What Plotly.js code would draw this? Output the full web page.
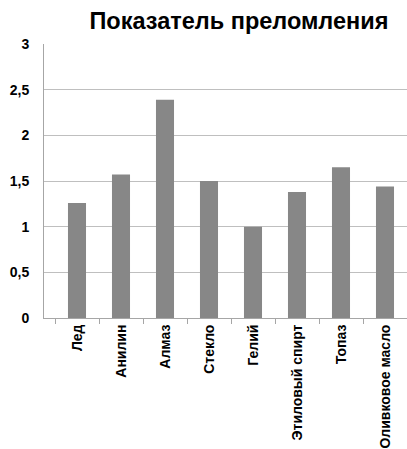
<!DOCTYPE html>
<html><head><meta charset="utf-8">
<script src="https://cdn.plot.ly/plotly-3.0.1.min.js"></script>
<style>html,body{margin:0;padding:0;background:#fff}</style>
</head><body><div id="chart" style="width:407px;height:449px"></div>
<script>
const categories = ["Лед","Анилин","Алмаз","Стекло","Гелий","Этиловый спирт","Топаз","Оливковое масло"];
const values = [1.26, 1.57, 2.39, 1.5, 1.0, 1.38, 1.65, 1.44];
const yTickVals = [0, 0.5, 1, 1.5, 2, 2.5, 3];
const yTickText = ["0", "0,5", "1", "1,5", "2", "2,5", "3"];

const FONT = "Liberation Sans, Arial, sans-serif";
const trace = {
  type: "bar", x: categories, y: values,
  marker: {color: "#878787"}, width: 0.41, hoverinfo: "none"
};
const layout = {
  width: 407, height: 449,
  margin: {l: 44, r: 0, t: 44, b: 131, pad: 0},
  paper_bgcolor: "#fff", plot_bgcolor: "#fff",
  font: {family: FONT, color: "#000"},
  title: {text: "<b>Показатель преломления</b>", font: {size: 23.5, family: FONT, color: "#000"},
          x: 0.587, xanchor: "center", y: 0.953, yanchor: "middle"},
  showlegend: false,
  xaxis: {
    type: "category", range: [-0.75, 7.5], tickangle: -90,
    tickvals: categories, ticktext: categories.map(c => "<b>" + c + "</b>"),
    tickfont: {size: 14, family: FONT, color: "#000"},
    ticks: "outside", tickson: "boundaries", ticklen: 5, tickcolor: "#a6a6a6",
    showgrid: false, showline: true, linecolor: "#a6a6a6", zeroline: false
  },
  yaxis: {
    range: [0, 3], tickvals: yTickVals, ticktext: yTickText.map(t => "<b>" + t + "</b>"),
    tickfont: {size: 14, family: FONT, color: "#000"},
    showgrid: true, gridcolor: "#bfbfbf", gridwidth: 1,
    showline: true, linecolor: "#a6a6a6", zeroline: false, ticks: "", ticklabelstandoff: 11
  }
};
Plotly.newPlot("chart", [trace], layout, {displayModeBar: false, staticPlot: true});
</script></body></html>
